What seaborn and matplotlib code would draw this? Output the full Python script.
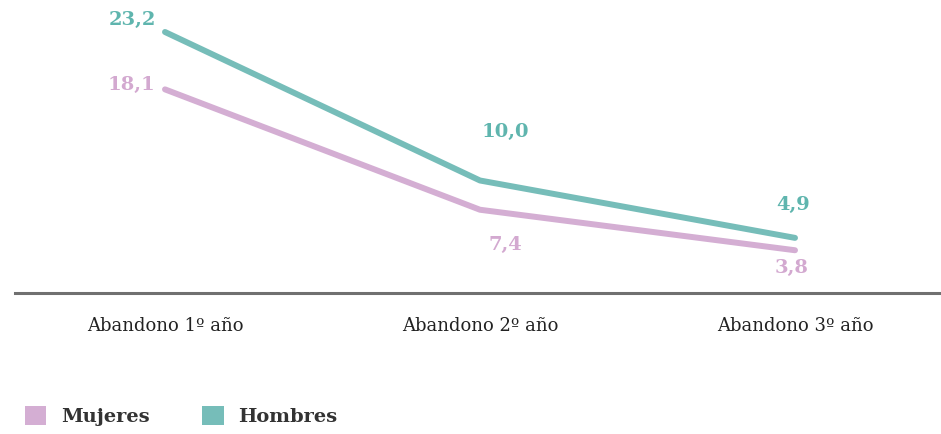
import numpy as np
import pandas as pd
import matplotlib
matplotlib.use("Agg")
import matplotlib.pyplot as plt
from matplotlib.patches import Patch
import seaborn as sns

categorias = ["Abandono 1º año", "Abandono 2º año", "Abandono 3º año"]
mujeres = [18.1, 7.4, 3.8]
hombres = [23.2, 10.0, 4.9]
series = ["Mujeres", "Hombres"]
colores = {"Mujeres": "#d4aed3", "Hombres": "#76bdb9"}
colores_txt = {"Mujeres": "#d3a9d0", "Hombres": "#5fb5ae"}

# label offsets (pixels) from each point
offsets = {
    "Hombres": [(-33, 12), (25, 49), (-2, 33)],
    "Mujeres": [(-34, 4), (25, -35), (-3, -18)],
}

df = pd.DataFrame({
    "cat": categorias * 2,
    "pos": [0, 1, 2] * 2,
    "valor": mujeres + hombres,
    "serie": ["Mujeres"] * 3 + ["Hombres"] * 3,
})

sns.set_style("white")
plt.rcParams["font.family"] = ["DejaVu Serif"]

fig = plt.figure(figsize=(9.41, 4.34), dpi=100)
ax = fig.add_axes([15 / 941, (434 - 293) / 434, 1 - 15 / 941, 293 / 434])

sns.lineplot(data=df, x="pos", y="valor", hue="serie", palette=colores,
             hue_order=series, linewidth=4.3, legend=False, ax=ax,
             solid_capstyle="round", solid_joinstyle="round")

for s, vals in [("Mujeres", mujeres), ("Hombres", hombres)]:
    for i, v in enumerate(vals):
        dx, dy = offsets[s][i]
        ax.annotate(f"{v:.1f}".replace(".", ","), (i, v),
                    xytext=(dx * 0.72, dy * 0.72), textcoords="offset points",
                    ha="center", va="center", fontsize=14, fontweight="bold",
                    color=colores_txt[s])

ax.set_xlim(-150 / 315, 2 + 146 / 315)
ax.set_ylim(0, 293 / 11.25)
ax.set_xticks([0, 1, 2])
ax.set_xticklabels(categorias, fontsize=13, color="#222222")
ax.tick_params(axis="x", length=0, pad=17)
ax.set_yticks([])
ax.set_xlabel("")
ax.set_ylabel("")
for sp in ["top", "right", "left"]:
    ax.spines[sp].set_visible(False)
ax.spines["bottom"].set_color("#707070")
ax.spines["bottom"].set_linewidth(2.2)

handles = [Patch(facecolor=colores[s], edgecolor="none", label=s) for s in series]
leg = fig.legend(handles=handles, loc="lower left", bbox_to_anchor=(0.008, -0.022),
                 ncol=2, frameon=False, handlelength=1.1, handleheight=1.1,
                 columnspacing=2.7, handletextpad=0.75,
                 prop={"family": "DejaVu Serif", "weight": "bold", "size": 14})
for t in leg.get_texts():
    t.set_color("#333333")

fig.savefig("out.png", dpi=100)
